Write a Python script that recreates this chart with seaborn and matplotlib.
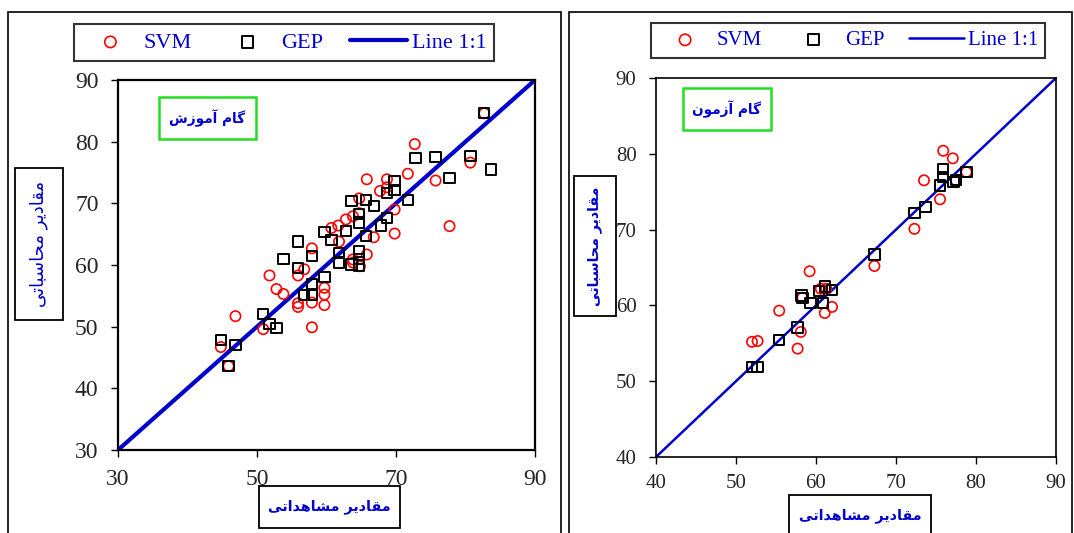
"""
Observed vs computed values for SVM and GEP models (train / test steps).
"""
import matplotlib
matplotlib.use("Agg")
import pandas as pd
from matplotlib import pyplot as plt
from matplotlib.patches import Rectangle
import seaborn as sns

# training step (left panel)
train_svm_obs = [82.7, 72.7, 80.7, 71.7, 65.8, 68.7, 75.7, 68.7, 67.7, 64.7, 69.8, 63.8, 62.8,
                 64.7, 61.7, 60.7, 77.7, 69.8, 66.8, 61.8, 57.9, 65.8, 63.8, 56.8, 64.8, 63.8,
                 51.8, 55.9, 52.8, 53.8, 59.7, 59.7, 55.9, 55.9, 57.9, 59.7, 46.9, 50.9, 57.9,
                 44.8, 45.9]
train_svm_calc = [84.6, 79.6, 76.6, 74.8, 73.9, 73.9, 73.7, 72.6, 72.0, 70.8, 69.0, 67.9, 67.4,
                  68.4, 66.4, 66.0, 66.3, 65.1, 64.5, 63.8, 62.7, 61.7, 60.9, 59.3, 59.8, 60.4,
                  58.3, 58.3, 56.1, 55.3, 56.3, 55.2, 53.8, 53.2, 53.9, 53.5, 51.7, 49.6, 49.9,
                  46.7, 43.6]
train_gep_obs = [82.7, 72.8, 75.7, 80.7, 83.7, 77.7, 69.8, 68.7, 69.8, 71.7, 63.6, 65.7, 66.8,
                 64.7, 64.7, 68.7, 67.8, 59.7, 62.8, 60.7, 65.7, 55.9, 53.8, 57.9, 61.8, 64.7,
                 64.7, 61.8, 55.9, 63.6, 64.7, 59.7, 57.9, 56.8, 57.9, 50.9, 51.8, 52.8, 44.8,
                 46.9, 45.9]
train_gep_calc = [84.6, 77.4, 77.5, 77.7, 75.5, 74.1, 73.6, 71.7, 72.2, 70.5, 70.4, 70.5, 69.6,
                  68.3, 66.9, 67.6, 66.4, 65.4, 65.5, 64.0, 64.7, 63.8, 61.0, 61.5, 62.0, 62.2,
                  61.0, 60.4, 59.5, 60.1, 59.9, 58.1, 56.9, 55.1, 55.1, 52.1, 50.4, 49.8, 47.8,
                  47.0, 43.6]

# testing step (right panel)
test_svm_obs = [75.9, 77.1, 73.5, 78.8, 77.5, 75.5, 72.3, 67.3, 59.2, 55.4, 62.0, 61.1, 60.6,
                58.1, 57.7, 52.0, 52.7, 58.3, 61.3]
test_svm_calc = [80.4, 79.4, 76.5, 77.6, 76.5, 74.0, 70.1, 65.2, 64.5, 59.3, 59.8, 59.0, 62.2,
                 56.5, 54.3, 55.2, 55.3, 61.0, 62.2]
test_gep_obs = [75.9, 75.9, 77.2, 77.5, 78.8, 75.5, 73.7, 72.3, 67.3, 58.2, 58.3, 59.3, 60.4,
                61.1, 62.0, 60.9, 57.7, 55.4, 52.0, 52.7]
test_gep_calc = [78.0, 76.9, 76.3, 76.5, 77.6, 75.8, 73.0, 72.2, 66.7, 61.3, 61.0, 60.3, 61.9,
                 62.5, 62.0, 60.3, 57.1, 55.4, 51.9, 51.9]

line_train = [30, 90]
line_test = [40, 90]
train_ticks_x = [30, 50, 70, 90]
train_ticks_y = [30, 40, 50, 60, 70, 80, 90]
test_ticks = [40, 50, 60, 70, 80, 90]

txt_train = "گام آموزش"
txt_test = "گام آزمون"
txt_ylabel = "مقادیر محاسباتی"
txt_xlabel = "مقادیر مشاهداتی"

# no text shaping in matplotlib, so pick the presentation forms by hand
FORMS = {
    "ا": ("\uFE8D", "\uFE8E", None, None),
    "آ": ("\uFE81", "\uFE82", None, None),
    "د": ("\uFEA9", "\uFEAA", None, None),
    "ر": ("\uFEAD", "\uFEAE", None, None),
    "ز": ("\uFEAF", "\uFEB0", None, None),
    "و": ("\uFEED", "\uFEEE", None, None),
    "ب": ("\uFE8F", "\uFE90", "\uFE91", "\uFE92"),
    "ت": ("\uFE95", "\uFE96", "\uFE97", "\uFE98"),
    "ح": ("\uFEA1", "\uFEA2", "\uFEA3", "\uFEA4"),
    "س": ("\uFEB1", "\uFEB2", "\uFEB3", "\uFEB4"),
    "ش": ("\uFEB5", "\uFEB6", "\uFEB7", "\uFEB8"),
    "ق": ("\uFED5", "\uFED6", "\uFED7", "\uFED8"),
    "م": ("\uFEE1", "\uFEE2", "\uFEE3", "\uFEE4"),
    "ن": ("\uFEE5", "\uFEE6", "\uFEE7", "\uFEE8"),
    "ه": ("\uFEE9", "\uFEEA", "\uFEEB", "\uFEEC"),
    "گ": ("\uFB92", "\uFB93", "\uFB94", "\uFB95"),
    "ی": ("\uFBFC", "\uFBFD", "\uFBFE", "\uFBFF"),
}


def shape(text):
    """Contextual forms + reversed order for right-to-left display"""
    out = []
    for i, c in enumerate(text):
        if c not in FORMS:
            out.append(c)
            continue
        prev = text[i - 1] if i > 0 else ""
        nxt = text[i + 1] if i + 1 < len(text) else ""
        f = FORMS[c]
        jp = prev in FORMS and FORMS[prev][2] is not None
        jn = f[2] is not None and nxt in FORMS
        if jp and jn:
            out.append(f[3])
        elif jp:
            out.append(f[1])
        elif jn:
            out.append(f[2])
        else:
            out.append(f[0])
    return "".join(reversed(out))


sns.set_theme(style="white")
plt.rcParams["font.family"] = ["Liberation Serif", "DejaVu Sans"]
BLUE = "#0000cc"
AR = ["DejaVu Sans"]

W, H = 1074, 533
fig = plt.figure(figsize=(W / 100, H / 100), dpi=100)


def fbox(x0, y0, x1, y1, color="black", lw=1.3):
    """Rectangle given in pixel coordinates of the figure (top-left origin)"""
    fig.add_artist(Rectangle((x0 / W, 1 - y1 / H), (x1 - x0) / W, (y1 - y0) / H,
                             transform=fig.transFigure, fill=False,
                             edgecolor=color, linewidth=lw, zorder=5))


def ftext(x, y, s, **kw):
    fig.text(x / W, 1 - y / H, s, ha="center", va="center", **kw)


def draw_panel(rect, svm_x, svm_y, gep_x, gep_y, line, xt, yt, lw_line, fs_tick, fs_leg,
               leg_center, spine_lw, xpad):
    ax = fig.add_axes(rect)
    df_svm = pd.DataFrame({"obs": svm_x, "calc": svm_y})
    df_gep = pd.DataFrame({"obs": gep_x, "calc": gep_y})
    df_line = pd.DataFrame({"obs": line, "calc": line})
    sns.scatterplot(data=df_svm, x="obs", y="calc", marker="o", s=55, facecolors="none",
                    edgecolor="red", linewidth=1.2, label="SVM", ax=ax, zorder=3)
    sns.scatterplot(data=df_gep, x="obs", y="calc", marker="s", s=55, facecolors="none",
                    edgecolor="black", linewidth=1.4, label="GEP", ax=ax, zorder=4)
    sns.lineplot(data=df_line, x="obs", y="calc", color=BLUE, linewidth=lw_line,
                 label="Line 1:1", ax=ax, zorder=2)
    ax.set_xlim(line[0], line[1])
    ax.set_ylim(line[0], line[1])
    ax.set_xticks(xt)
    ax.set_yticks(yt)
    ax.set_xlabel("")
    ax.set_ylabel("")
    for sp in ax.spines.values():
        sp.set_visible(True)
        sp.set_color("black")
        sp.set_linewidth(spine_lw)
    ax.tick_params(axis="both", direction="out", length=5, width=1, color="black",
                   labelsize=fs_tick, bottom=True, left=True)
    ax.tick_params(axis="x", pad=xpad)
    ax.tick_params(axis="y", pad=9)
    leg = ax.legend(loc="center", ncol=3, bbox_to_anchor=(leg_center[0] / W, 1 - leg_center[1] / H),
                    bbox_transform=fig.transFigure, fontsize=fs_leg, frameon=True,
                    fancybox=False, edgecolor="black", handlelength=2.6,
                    handletextpad=0.2, columnspacing=1.2, borderpad=0.35, markerscale=1.1)
    leg.get_frame().set_linewidth(1.5)
    for t in leg.get_texts():
        t.set_color(BLUE)
    return ax


# left panel
ax1 = draw_panel([118 / W, 1 - 450 / H, (535 - 118) / W, (450 - 80) / H],
                 train_svm_obs, train_svm_calc, train_gep_obs, train_gep_calc,
                 line_train, train_ticks_x, train_ticks_y, 3.0, 17, 16, (284, 42.5), 1.6, 9)
# right panel
ax2 = draw_panel([656 / W, 1 - 457 / H, (1056 - 656) / W, (457 - 78) / H],
                 test_svm_obs, test_svm_calc, test_gep_obs, test_gep_calc,
                 line_test, test_ticks, test_ticks, 1.8, 15, 15, (848, 40.5), 1.2, 7)

# outer frames of the two panels
fbox(8, 12, 561, 560, lw=1.2)
fbox(569, 12, 1072, 560, lw=1.2)

# step labels
fbox(159, 97, 256, 139, color="#22dd22", lw=1.8)
ftext(207, 118, shape(txt_train), family=AR, fontsize=9.8, fontweight="bold", color=BLUE)
fbox(683, 88, 771, 130, color="#22dd22", lw=1.8)
ftext(727, 109, shape(txt_test), family=AR, fontsize=9.8, fontweight="bold", color=BLUE)

# axis label boxes
fbox(15, 168, 63, 320)
ftext(39, 244, shape(txt_ylabel), family=AR, fontsize=13, color=BLUE, rotation=90)
fbox(574, 176, 616, 316)
ftext(595, 246, shape(txt_ylabel), family=AR, fontsize=10.2, fontweight="bold", color=BLUE,
      rotation=90)
fbox(259, 486, 400, 528)
ftext(329, 507, shape(txt_xlabel), family=AR, fontsize=10.3, fontweight="bold", color=BLUE)
fbox(789, 495, 931, 560)
ftext(860, 516, shape(txt_xlabel), family=AR, fontsize=10.3, fontweight="bold", color=BLUE)

fig.savefig("out.png", dpi=100)
